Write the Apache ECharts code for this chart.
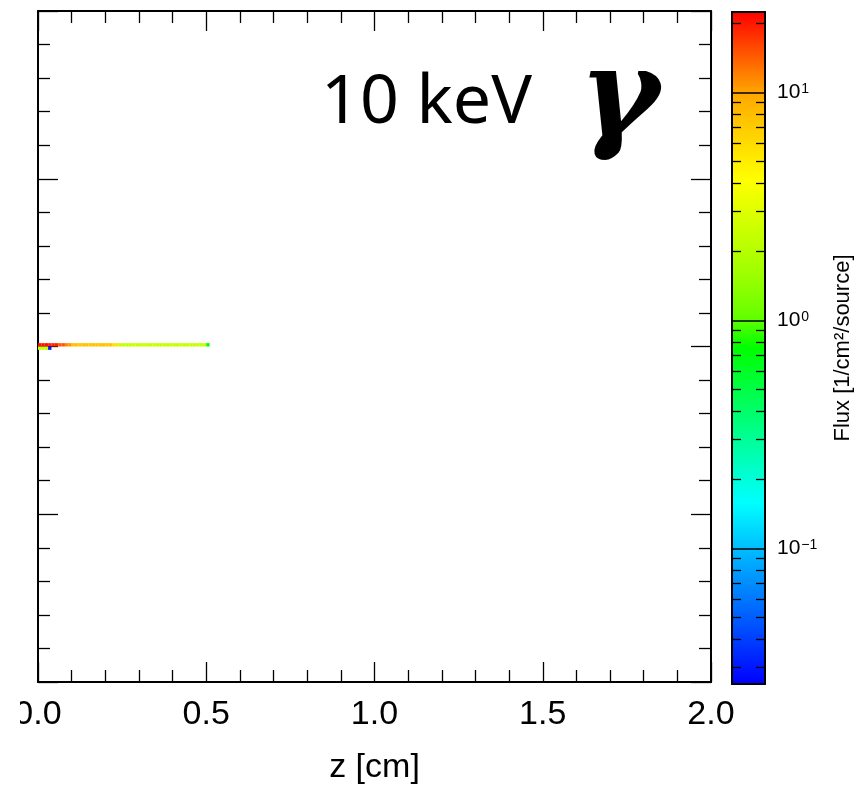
<!DOCTYPE html>
<html>
<head>
<meta charset="utf-8">
<script src="https://cdn.jsdelivr.net/npm/echarts@6/dist/echarts.min.js"></script>
<style>
html,body{margin:0;padding:0;background:#fff;}
#chart{width:857px;height:790px;}
</style>
</head>
<body>
<div id="chart"></div>
<script>
// ---- data ----
const binWidth = 0.01; // cm
// flux per x-bin (0.01 cm each, starting at z=0), row just above the axis (y in [0,0.01])
const topRowFlux = [21, 21, 21, 19, 19, 19, 15, 15, 11.5, 11,
  7.6, 7.6, 7.6, 7.6, 7.6, 7.6, 7.6, 7.6, 7.6, 7.6, 7.6, 7.6,
  5.8, 5.8,
  2.4, 2.4, 2.4, 2.4, 2.4, 2.4, 2.4, 2.4, 2.4, 2.4, 2.4, 2.4, 2.4,
  2.4, 2.4, 2.4, 2.4, 2.4, 2.4, 2.4, 2.4, 2.4, 2.4, 2.4, 2.4, 2.4,
  0.75];
// row just below the axis (y in [-0.01,0])
const bottomRowFlux = [2.4, 2.4, 2.4, 0.03];
const rowEdges = [[0, 0.01], [-0.01, 0]];
const fluxMin = 0.0254, fluxMax = 22.5;
const colorbarDecades = [-1, 0, 1];
const colorbarMinorTicks = [0.03,0.04,0.05,0.06,0.07,0.08,0.09,0.2,0.3,0.4,0.5,0.6,0.7,0.8,0.9,2,3,4,5,6,7,8,9,20];
const titleText = '10 keV';
const particleText = 'γ';
const xAxisName = 'z [cm]';
const colorbarName = 'Flux [1/cm²/source]';

// ---- build cells ----
const cells = [];
[topRowFlux, bottomRowFlux].forEach(function (row, r) {
  row.forEach(function (v, i) {
    cells.push([i * binWidth, (i + 1) * binWidth, rowEdges[r][0], rowEdges[r][1], Math.log10(v)]);
  });
});

// ---- palette (style) ----
const stops = [
  [0.0, [0, 0, 255]], [0.27, [0, 255, 255]], [0.50, [0, 255, 0]], [0.545, [100, 255, 0]],
  [0.60, [150, 255, 0]], [0.75, [255, 255, 0]], [0.84, [255, 195, 0]], [0.88, [255, 165, 0]], [1.0, [255, 0, 0]]
];
function sample(f) {
  for (let k = 0; k < stops.length - 1; k++) {
    const a = stops[k], b = stops[k + 1];
    if (f >= a[0] && f <= b[0]) {
      const t = (f - a[0]) / (b[0] - a[0]);
      const c = a[1].map(function (x, j) { return Math.round(x + (b[1][j] - x) * t); });
      return 'rgb(' + c.join(',') + ')';
    }
  }
  return 'rgb(255,0,0)';
}
const palette = [];
for (let k = 0; k <= 100; k++) palette.push(sample(k / 100));

const lmin = Math.log10(fluxMin), lmax = Math.log10(fluxMax);
const FONT = 'Liberation Sans';

const chart = echarts.init(document.getElementById('chart'), null, { renderer: 'canvas' });

const mainTick = { show: true, inside: true, length: 20, lineStyle: { color: '#000', width: 1.3 } };
const mainMinor = { show: true, splitNumber: 5, length: 12, lineStyle: { color: '#000', width: 1.3 } };
const mainLine = { show: true, onZero: false, lineStyle: { color: '#000', width: 2 } };

chart.setOption({
  animation: false,
  backgroundColor: '#fff',
  grid: [
    { left: 38, top: 11, width: 673, height: 673, show: false },
    { left: 732, top: 12, width: 33, height: 672, show: false }
  ],
  xAxis: [
    { gridIndex: 0, type: 'value', min: 0, max: 2, interval: 0.5, position: 'bottom',
      axisLine: mainLine, axisTick: mainTick, minorTick: mainMinor, splitLine: { show: false },
      axisLabel: { fontSize: 34, fontFamily: FONT, color: '#000', margin: 16,
        formatter: function (v) { return v.toFixed(1); } },
      name: xAxisName, nameLocation: 'middle', nameGap: 69,
      nameTextStyle: { fontSize: 34, fontFamily: FONT, color: '#000' } },
    { gridIndex: 0, type: 'value', min: 0, max: 2, interval: 0.5, position: 'top',
      axisLine: mainLine, axisTick: mainTick, minorTick: mainMinor, splitLine: { show: false },
      axisLabel: { show: false } },
    { gridIndex: 1, type: 'value', min: 0, max: 1, position: 'bottom', z: 10,
      axisLine: { show: true, onZero: false, lineStyle: { color: '#000', width: 2 } },
      axisTick: { show: false }, axisLabel: { show: false }, splitLine: { show: false } },
    { gridIndex: 1, type: 'value', min: 0, max: 1, position: 'top', z: 10,
      axisLine: { show: true, onZero: false, lineStyle: { color: '#000', width: 2 } },
      axisTick: { show: false }, axisLabel: { show: false }, splitLine: { show: false } }
  ],
  yAxis: [
    { gridIndex: 0, type: 'value', min: -1, max: 1, interval: 0.5, position: 'left',
      axisLine: mainLine, axisTick: mainTick, minorTick: mainMinor, splitLine: { show: false },
      axisLabel: { show: false } },
    { gridIndex: 0, type: 'value', min: -1, max: 1, interval: 0.5, position: 'right',
      axisLine: mainLine, axisTick: mainTick, minorTick: mainMinor, splitLine: { show: false },
      axisLabel: { show: false } },
    { gridIndex: 1, type: 'value', min: lmin, max: lmax, position: 'left', z: 10,
      axisLine: { show: true, onZero: false, lineStyle: { color: '#000', width: 2 } },
      axisTick: { show: true, inside: true, length: 9, customValues: colorbarMinorTicks.map(Math.log10),
        lineStyle: { color: '#000', width: 1.3 } },
      axisLabel: { show: false }, splitLine: { show: false } },
    { gridIndex: 1, type: 'value', min: lmin, max: lmax, position: 'right', z: 10,
      axisLine: { show: true, onZero: false, lineStyle: { color: '#000', width: 2 } },
      axisTick: { show: true, inside: true, length: 9, customValues: colorbarMinorTicks.map(Math.log10),
        lineStyle: { color: '#000', width: 1.3 } },
      axisLabel: { show: true, customValues: colorbarDecades, margin: 12,
        formatter: function (v) { const e = Math.round(v); return '{b|10}{s|' + (e < 0 ? '−' + (-e) : e) + '}'; },
        rich: { b: { fontSize: 21, fontFamily: FONT, color: '#000' },
                s: { fontSize: 14, fontFamily: FONT, color: '#000', verticalAlign: 'top', padding: [0, 0, 6, 1] } } },
      splitLine: { show: false },
      name: colorbarName, nameLocation: 'middle', nameRotate: 90, nameGap: 67,
      nameTextStyle: { fontSize: 22, fontFamily: FONT, color: '#000' } },
    { gridIndex: 1, type: 'value', min: lmin, max: lmax, position: 'left', offset: 0, z: 11,
      axisLine: { show: false },
      axisTick: { show: true, inside: true, length: 33, customValues: colorbarDecades,
        lineStyle: { color: '#000', width: 1.5 } },
      axisLabel: { show: false }, splitLine: { show: false } }
  ],
  visualMap: {
    type: 'continuous', min: lmin, max: lmax, dimension: 4, seriesIndex: 0,
    inRange: { color: palette },
    left: 732, top: 12, itemWidth: 33, itemHeight: 672, padding: 0,
    calculable: false, hoverLink: false, orient: 'vertical', z: 5
  },
  series: [{
    type: 'custom', xAxisIndex: 0, yAxisIndex: 0,
    encode: { x: [0, 1], y: [2, 3] },
    data: cells,
    renderItem: function (params, api) {
      const p0 = api.coord([api.value(0), api.value(2)]);
      const p1 = api.coord([api.value(1), api.value(3)]);
      return { type: 'rect',
        shape: { x: p0[0], y: p1[1], width: p1[0] - p0[0], height: p0[1] - p1[1] },
        style: { fill: api.visual('color') } };
    }
  }],
  graphic: [
    { type: 'text', left: 321, top: 70, z: 20,
      style: { text: titleText, fontSize: 68, fontFamily: 'Noto Sans', fill: '#000' } },
    { type: 'text', left: 579, top: 42, z: 20,
      style: { text: particleText, fontSize: 122, fontFamily: 'DejaVu Serif', fontWeight: 'bold', fontStyle: 'italic', fill: '#000' } },
    { type: 'rect', shape: { x: 0, y: 690, width: 20, height: 50 }, style: { fill: '#fff' }, z: 30 }
  ]
});
</script>
</body>
</html>
